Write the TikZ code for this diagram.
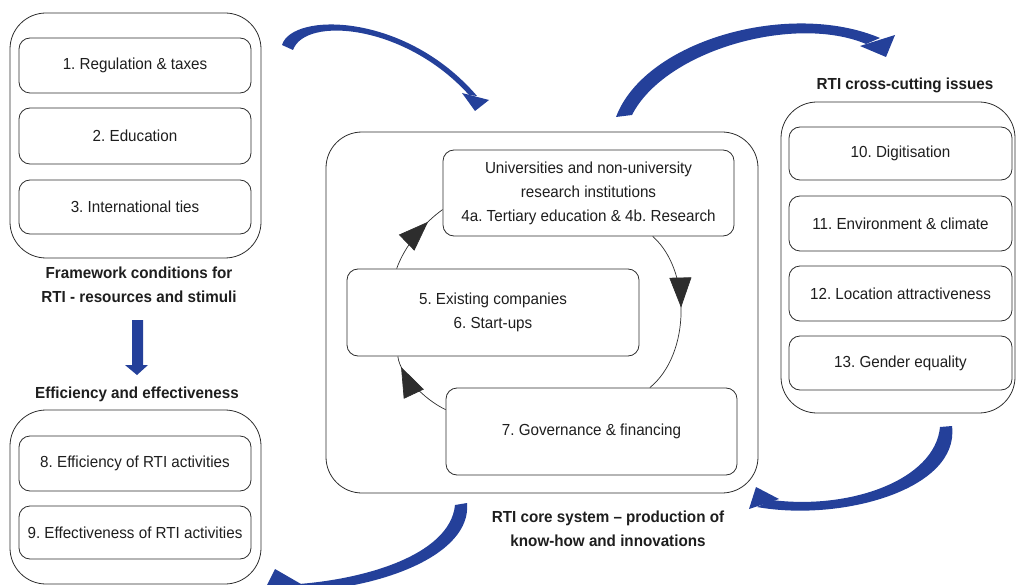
\documentclass[tikz,border=0pt]{standalone}
\usepackage{fontspec}
\setmainfont{Liberation Sans}[FakeStretch=0.95]
\usetikzlibrary{arrows.meta,decorations.markings,calc}
\definecolor{rtiblue}{RGB}{36,64,154}
\definecolor{edgegray}{RGB}{45,45,45}
\definecolor{txtgray}{RGB}{30,30,30}
\frenchspacing
\begin{document}
\begin{tikzpicture}[x=1pt,y=-1pt,
  every node/.style={font=\fontsize{16}{24}\selectfont, text=txtgray},
  outerbox/.style={draw=edgegray, line width=0.8pt, rounded corners=36pt, inner sep=0pt},
  innerbox/.style={draw=edgegray, line width=0.8pt, rounded corners=11pt, inner sep=0pt, align=center},
  titletext/.style={font=\fontsize{16}{24}\selectfont\bfseries, align=center},
  cyclearc/.style={draw=edgegray, line width=0.7pt},
  midtip/.style={decoration={markings, mark=at position #1 with {\arrow{Triangle[length=30pt,width=22pt]}}}, postaction={decorate}},
  bluearrow/.style={fill=rtiblue, draw=none}]
\useasboundingbox (0,0) rectangle (1016,585);
\clip (0,0) rectangle (1016,585);

% ---- left top group
\node[outerbox, minimum width=251pt, minimum height=245pt] (fwbox) at (135.5,135.5) {};
\node[innerbox, minimum width=232pt, minimum height=55pt] (b1) at (135,65.5) {1. Regulation \& taxes};
\node[innerbox, minimum width=232pt, minimum height=56pt] (b2) at (135,136) {2. Education};
\node[innerbox, minimum width=232pt, minimum height=54pt] (b3) at (135,207) {3. International ties};
\node[titletext] (fwtitle) at (139,285) {Framework conditions for\\RTI - resources and stimuli};

% down arrow
\fill[rtiblue] (132,320) -- (143,320) -- (143,365) -- (148,365) -- (137,375) -- (125,365) -- (132,365) -- cycle;

% ---- left bottom group
\node[titletext] (eftitle) at (137,394) {Efficiency and effectiveness};
\node[outerbox, minimum width=251pt, minimum height=174pt] (efbox) at (135.5,497) {};
\node[innerbox, minimum width=232pt, minimum height=55pt] (b8) at (135,463.5) {8. Efficiency of RTI activities};
\node[innerbox, minimum width=232pt, minimum height=53pt] (b9) at (135,532.5) {9. Effectiveness of RTI activities};

% ---- centre group
\node[outerbox, minimum width=432pt, minimum height=361pt] (corebox) at (542,312.5) {};
\node[innerbox, minimum width=291pt, minimum height=86pt] (b4) at (588.5,193) {Universities and non-university\\research institutions\\4a. Tertiary education \& 4b. Research};
\node[innerbox, minimum width=292pt, minimum height=87pt] (b5) at (493,312.5) {5. Existing companies\\6. Start-ups};
\node[innerbox, minimum width=291pt, minimum height=87pt] (b7) at (591.5,431.5) {7. Governance \& financing};
\node[titletext] (coretitle) at (608,528.5) {RTI core system – production of\\know-how and innovations};

% cycle arcs
\draw[cyclearc, midtip=0.47] ($(b4.south west)!0.72!(b4.south east)$) .. controls (691,270) and (691,354) .. ($(b7.north west)!0.70!(b7.north east)$);
\draw[cyclearc, midtip=0.85] ($(b7.north west)+(0,22)$) .. controls (425,400) and (400,375) .. ($(b5.south west)!0.175!(b5.south east)$);
\draw[cyclearc, midtip=0.75] ($(b5.north west)!0.171!(b5.north east)$) .. controls (405,245) and (425,222) .. ($(b4.north west)+(0,60)$);

% ---- right group
\node[titletext] (cctitle) at (905,85) {RTI cross-cutting issues};
\node[outerbox, minimum width=234pt, minimum height=311pt] (ccbox) at (898,257.5) {};
\node[innerbox, minimum width=223pt, minimum height=53pt] (b10) at (900.5,153.5) {10. Digitisation};
\node[innerbox, minimum width=223pt, minimum height=55pt] (b11) at (900.5,223.5) {11. Environment \& climate};
\node[innerbox, minimum width=223pt, minimum height=55pt] (b12) at (900.5,293.5) {12. Location attractiveness};
\node[innerbox, minimum width=223pt, minimum height=54pt] (b13) at (900.5,363) {13. Gender equality};

% ---- blue curved arrows
% 1: framework -> core
\fill[bluearrow] (282,45) .. controls (292,12) and (405,12) .. (477,96) -- (469,95) .. controls (405,24) and (305,16) .. (293,50) -- cycle;
\fill[bluearrow] (462,93) -- (489,100) -- (475,111) -- cycle;
% 2: core -> cross-cutting
\fill[bluearrow] (616,117) .. controls (645,40) and (790,0) .. (880,38) -- (866,44) .. controls (795,14) and (665,50) .. (632,115) -- cycle;
\fill[bluearrow] (860,46) -- (895,35) -- (886,57) -- cycle;
% 3: cross-cutting -> core
\fill[bluearrow] (952,426) .. controls (960,490) and (840,522) .. (757,507) -- (772,500) .. controls (850,510) and (935,480) .. (940,427) -- cycle;
\fill[bluearrow] (756,487) -- (749,509) -- (779,499) -- cycle;
% 4: core -> efficiency
\fill[bluearrow] (467,503) .. controls (472,555) and (380,590) .. (290,592) -- (282,585) .. controls (360,582) and (450,556) .. (455,505) -- cycle;
\fill[bluearrow] (275,569) -- (265,589) -- (301,584) -- cycle;
\end{tikzpicture}
\end{document}
